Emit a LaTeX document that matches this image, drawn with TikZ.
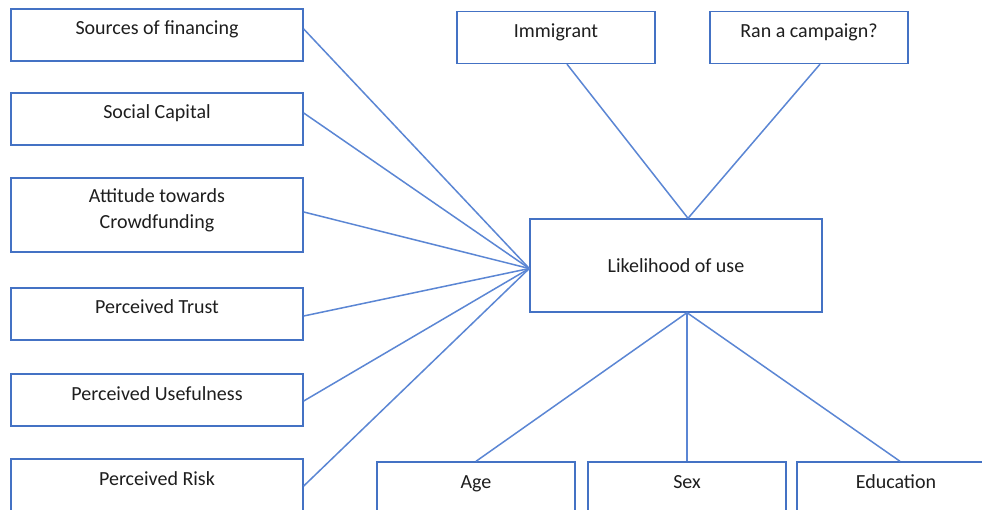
\documentclass[tikz,border=0pt]{standalone}
\usepackage{fontspec}
\setmainfont{Carlito}
\definecolor{boxblue}{HTML}{4472C4}
\definecolor{lineblue}{HTML}{5B86D4}
\definecolor{txt}{HTML}{1E1E1E}
\begin{document}
\begin{tikzpicture}[x=1pt,y=-1pt,
  basebox/.style={draw=boxblue,line width=1.4pt,fill=white,inner xsep=0pt,inner ysep=0pt,
    font=\fontsize{20}{26}\selectfont,text=txt},
  onel/.style={basebox,text height=26pt,text depth=26pt},
  wide/.style={minimum width=292pt},
  narrow/.style={minimum width=198pt},
  conn/.style={draw=lineblue,line width=1.5pt}]
\clip (0,0) rectangle (982,510);
\fill[white] (0,0) rectangle (982,510);
% left column
\node[onel,wide] (src) at (157,35) {Sources of financing};
\node[onel,wide] (soc) at (157,119) {Social Capital};
\node[basebox,wide,minimum height=74pt,align=center,text depth=13pt] (att) at (157,215) {Attitude towards\\Crowdfunding};
\node[onel,wide] (tru) at (157,314) {Perceived Trust};
\node[onel,wide] (usf) at (157,400) {Perceived Usefulness};
\node[onel,wide] (rsk) at (157,485) {Perceived Risk};
% top
\node[onel,narrow] (imm) at (556,37.5) {Immigrant};
\node[onel,narrow] (ran) at (809,37.5) {Ran a campaign?};
% center
\node[basebox,wide,minimum height=93pt] (ctr) at (676,265.5) {Likelihood of use};
% bottom
\node[onel,narrow] (age) at (476,488) {Age};
\node[onel,narrow] (sex) at (687,488) {Sex};
\node[onel,narrow] (edu) at (896,488) {Education};
% connectors
\draw[conn] ([yshift=6pt]src.east) -- ([yshift=-3pt]ctr.west);
\draw[conn] ([yshift=6pt]soc.east) -- ([yshift=-3pt]ctr.west);
\draw[conn] ([yshift=3pt]att.east) -- ([yshift=-3pt]ctr.west);
\draw[conn] ([yshift=-2pt]tru.east) -- ([yshift=-3pt]ctr.west);
\draw[conn] ([yshift=-1pt]usf.east) -- ([yshift=-3pt]ctr.west);
\draw[conn] ([yshift=-1pt]rsk.east) -- ([yshift=-3pt]ctr.west);
\draw[conn] ([xshift=11pt]imm.south) -- ([xshift=12pt]ctr.north);
\draw[conn] ([xshift=11pt]ran.south) -- ([xshift=12pt]ctr.north);
\draw[conn] ([xshift=11pt]ctr.south) -- (age.north);
\draw[conn] ([xshift=11pt]ctr.south) -- (sex.north);
\draw[conn] ([xshift=11pt]ctr.south) -- ([xshift=4pt]edu.north);
\end{tikzpicture}
\end{document}
